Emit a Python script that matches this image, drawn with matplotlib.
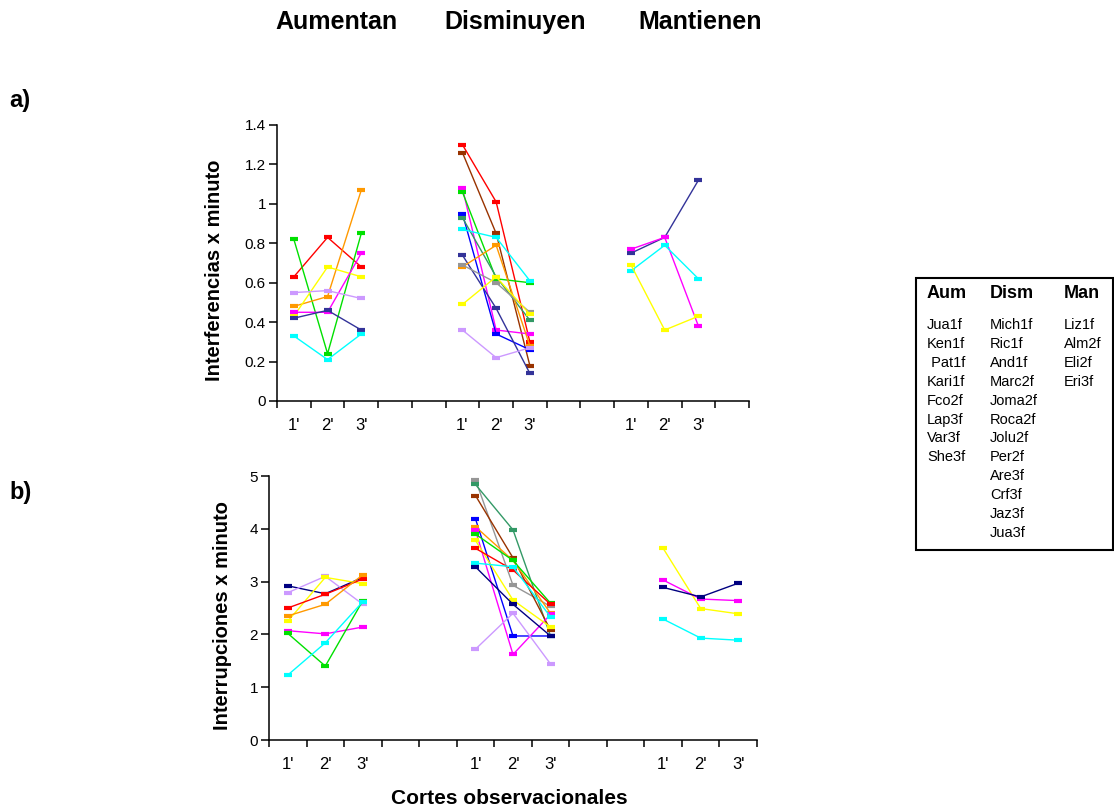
import numpy as np
import matplotlib
matplotlib.use("Agg")
import matplotlib.pyplot as plt
from matplotlib.patches import Rectangle

plt.rcParams["font.family"] = ["Liberation Sans", "DejaVu Sans"]

W, H = 1114, 809

# ====================================
# DATA
# ====================================

group_titles = ["Aumentan", "Disminuyen", "Mantienen"]
cortes = ["1'", "2'", "3'"]
group_start = [0, 5, 10]

# a) interferencias x minuto
aum_a = [
    [0.63, 0.83, 0.68],
    [0.82, 0.24, 0.85],
    [0.48, 0.53, 1.07],
    [0.43, 0.68, 0.63],
    [0.45, 0.45, 0.75],
    [0.42, 0.46, 0.36],
    [0.55, 0.56, 0.52],
    [0.33, 0.21, 0.34],
]
dism_a = [
    [1.30, 1.01, 0.30],
    [1.26, 0.85, 0.18],
    [1.08, 0.36, 0.34],
    [1.06, 0.62, 0.60],
    [0.95, 0.34, 0.26],
    [0.93, 0.63, 0.41],
    [0.87, 0.83, 0.61],
    [0.74, 0.47, 0.14],
    [0.68, 0.79, 0.28],
    [0.69, 0.60, 0.45],
    [0.49, 0.63, 0.44],
    [0.36, 0.22, 0.27],
]
man_a = [
    [0.75, 0.83, 1.12],
    [0.77, 0.83, 0.38],
    [0.66, 0.79, 0.62],
    [0.69, 0.36, 0.43],
]

# b) interrupciones x minuto
aum_b = [
    [2.92, 2.77, 3.08],
    [2.79, 3.10, 2.57],
    [2.25, 3.08, 2.96],
    [2.50, 2.76, 3.05],
    [2.35, 2.57, 3.13],
    [2.07, 2.01, 2.14],
    [2.02, 1.40, 2.64],
    [1.23, 1.84, 2.62],
]
dism_b = [
    [4.93, 2.93, 2.53],
    [4.84, 3.98, 1.97],
    [4.63, 3.45, 2.08],
    [4.19, 1.97, 1.97],
    [4.04, 3.40, 2.40],
    [3.97, 1.62, 2.38],
    [3.90, 3.40, 2.59],
    [3.78, 2.65, 2.14],
    [3.63, 3.22, 2.57],
    [3.35, 3.28, 2.33],
    [3.28, 2.57, 1.97],
    [1.72, 2.40, 1.44],
]
man_b = [
    [3.63, 2.49, 2.39],
    [3.03, 2.67, 2.64],
    [2.89, 2.71, 2.97],
    [2.29, 1.93, 1.89],
]

# colores de cada serie
aum_a_colors = ["#FF0000", "#00E000", "#FF9900", "#FFFF00", "#FF00FF", "#333399", "#CC99FF", "#00FFFF"]
dism_a_colors = ["#FF0000", "#993300", "#FF00FF", "#00E000", "#0000FF", "#339966",
                 "#00FFFF", "#333399", "#FF9900", "#969696", "#FFFF00", "#CC99FF"]
man_a_colors = ["#333399", "#FF00FF", "#00FFFF", "#FFFF00"]

aum_b_colors = ["#000080", "#CC99FF", "#FFFF00", "#FF0000", "#FF9900", "#FF00FF", "#00E000", "#00FFFF"]
dism_b_colors = ["#969696", "#339966", "#993300", "#0000FF", "#FF9900", "#FF00FF",
                 "#00E000", "#FFFF00", "#FF0000", "#00FFFF", "#000080", "#CC99FF"]
man_b_colors = ["#FFFF00", "#FF00FF", "#000080", "#00FFFF"]

# tabla de sujetos
tabla_aum = ["Jua1f", "Ken1f", " Pat1f", "Kari1f", "Fco2f", "Lap3f", "Var3f", "She3f"]
tabla_dism = ["Mich1f", "Ric1f", "And1f", "Marc2f", "Joma2f", "Roca2f",
              "Jolu2f", "Per2f", "Are3f", "Crf3f", "Jaz3f", "Jua3f"]
tabla_man = ["Liz1f", "Alm2f", "Eli2f", "Eri3f"]


def fx(px):
    return px / W


def fy(py):
    return 1 - py / H


def draw_panel(ax, groups, colors, n_slots, ymax, ystep):

    for series, cols, start in zip(groups, colors, group_start):
        x = np.arange(start, start + 3) + 0.5
        for vals, c in zip(series, cols):
            ax.plot(
                x, vals,
                color=c,
                linewidth=1.0,
                marker="_",
                markersize=6,
                markeredgewidth=3,
                solid_joinstyle="miter"
            )

    ax.set_xlim(0, n_slots)
    ax.set_ylim(0, ymax)

    ax.spines["top"].set_visible(False)
    ax.spines["right"].set_visible(False)
    ax.spines["left"].set_linewidth(1.1)
    ax.spines["bottom"].set_linewidth(1.1)

    # marcas en los bordes de cada categoria, etiquetas al centro
    ax.set_xticks(np.arange(0, n_slots + 1))
    ax.set_xticklabels([])
    ax.tick_params(axis="x", which="major", direction="out", length=5, width=1.1)

    label_pos = []
    label_txt = []
    for start in group_start:
        for i, t in enumerate(cortes):
            label_pos.append(start + i + 0.5)
            label_txt.append(t)
    ax.set_xticks(label_pos, minor=True)
    ax.set_xticklabels(label_txt, minor=True, fontsize=12)
    ax.tick_params(axis="x", which="minor", length=0, pad=12)

    yt = np.arange(0, ymax + ystep / 2, ystep)
    ax.set_yticks(yt)
    ax.set_yticklabels(["%g" % round(v, 1) for v in yt], fontsize=11)
    ax.tick_params(axis="y", direction="out", length=6, width=1.1, pad=2)


fig = plt.figure(figsize=(W / 100, H / 100), dpi=100)

# ====================================
# PANEL a)
# ====================================

ax_a = fig.add_axes([fx(277), fy(401), fx(749) - fx(277), fy(125) - fy(401)])
draw_panel(ax_a, [aum_a, dism_a, man_a],
           [aum_a_colors, dism_a_colors, man_a_colors], 14, 1.4, 0.2)

# ====================================
# PANEL b)
# ====================================

ax_b = fig.add_axes([fx(269), fy(740), fx(757) - fx(269), fy(476) - fy(740)])
draw_panel(ax_b, [aum_b, dism_b, man_b],
           [aum_b_colors, dism_b_colors, man_b_colors], 13, 5, 1)

# ====================================
# TEXTOS
# ====================================

for t, xc in zip(group_titles, [336, 515, 700]):
    fig.text(fx(xc), fy(22), t, ha="center", va="center",
             fontsize=18, fontweight="bold")

fig.text(fx(9), fy(100), "a)", ha="left", va="center", fontsize=17, fontweight="bold")
fig.text(fx(9), fy(492), "b)", ha="left", va="center", fontsize=17, fontweight="bold")

fig.text(fx(215), fy(270), "Interferencias x minuto", rotation=90,
         ha="center", va="center", fontsize=14.5, fontweight="bold")
fig.text(fx(222), fy(616), "Interrupciones x minuto", rotation=90,
         ha="center", va="center", fontsize=14.5, fontweight="bold")

fig.text(fx(509), fy(799), "Cortes observacionales", ha="center", va="center",
         fontsize=15, fontweight="bold")

# ====================================
# TABLA
# ====================================

fig.patches.append(
    Rectangle((fx(916), fy(550)), fx(1113) - fx(916), fy(278) - fy(550),
              transform=fig.transFigure, fill=False,
              edgecolor="black", linewidth=1.5)
)

col_x = [927, 990, 1064]
for x, head in zip(col_x, ["Aum", "Dism", "Man"]):
    fig.text(fx(x), fy(293), head, ha="left", va="center",
             fontsize=13, fontweight="bold")

for x, names in zip(col_x, [tabla_aum, tabla_dism, tabla_man]):
    for i, n in enumerate(names):
        fig.text(fx(x), fy(325 + i * 18.9), n, ha="left", va="center",
                 fontsize=10.5)

fig.savefig("out.png", dpi=100)
